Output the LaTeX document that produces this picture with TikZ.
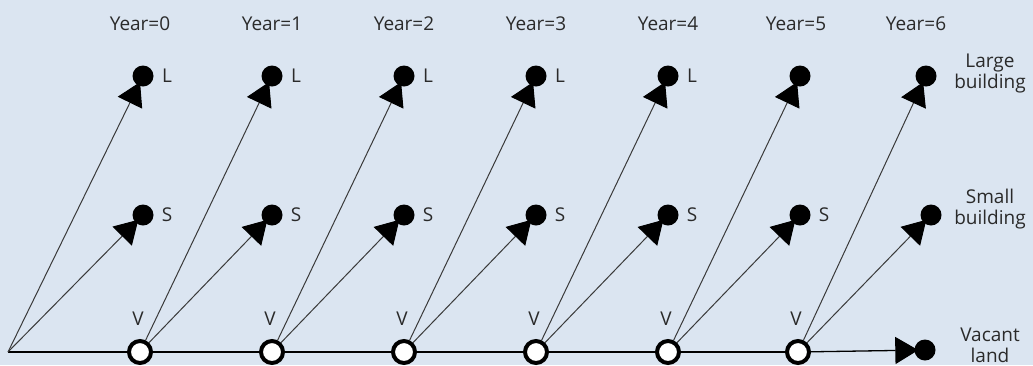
\documentclass[tikz,border=0pt]{standalone}
\usepackage{fontspec}
\setmainfont{Open Sans}
\usetikzlibrary{arrows.meta}
\definecolor{bg}{HTML}{DBE5F1}
\definecolor{ln}{HTML}{3A3A3A}
\definecolor{tx}{HTML}{2A2A2A}
\begin{document}
\begin{tikzpicture}[x=1pt,y=-1pt,
  dot/.style={circle,fill=black,inner sep=0pt,minimum size=21pt},
  vnode/.style={circle,draw=black,line width=4pt,fill=white,inner sep=0pt,minimum size=22pt},
  endtip/.style={-{Triangle[length=23pt,width=27pt,color=black]},shorten >=-4pt},
  branch/.style={draw=ln,line width=1pt,endtip},
  hline/.style={draw=black,line width=1.3pt},
  lbl/.style={font=\fontsize{19}{21}\selectfont,text=tx,inner sep=0pt,align=center},
]
\fill[bg] (0,0) rectangle (1033,365);
\useasboundingbox (0,0) rectangle (1033,365);
% year labels
\foreach \i/\x in {0/140,1/272,2/404,3/536,4/668,5/796,6/916}
  \node[lbl] (Y\i) at (\x,24) {Year=\i};
% dots
\foreach \i/\x/\s in {0/143/143,1/272/272,2/404/404,3/536/536,4/668/668,5/800/800,6/926/931} {
  \node[dot] (L\i) at (\x,76) {};
  \node[dot] (S\i) at (\s,215) {};
}
\foreach \i/\x in {0/143,1/272,2/404,3/536,4/668}
  \node[lbl] (LL\i) at (\x+24,76) {L};
\foreach \i/\x in {0/143,1/272,2/404,3/536,4/668,5/800}
  \node[lbl] (SL\i) at (\x+24,215) {S};
% vacant nodes
\coordinate (O) at (8,352);
\foreach \i/\x in {0/140,1/272,2/404,3/536,4/668,5/798} {
  \node[vnode] (V\i) at (\x,352) {};
  \node[lbl] (VL\i) at (\x-2,319) {V};
}
\node[dot] (F) at (925,350) {};
% right labels
\node[lbl] (RL) at (990,73) {Large\\building};
\node[lbl] (RS) at (990,209) {Small\\building};
\node[lbl] (RV) at (990,345) {Vacant\\land};
% connectors
\draw[hline] (O) -- (V0);
\foreach \a/\b in {0/1,1/2,2/3,3/4,4/5}
  \draw[hline] (V\a) -- (V\b);
\draw[hline,endtip] (V5) -- (F);
\draw[branch] (O) -- (L0);
\draw[branch] (O) -- (S0);
\foreach \a/\b in {0/1,1/2,2/3,3/4,4/5,5/6} {
  \draw[branch] (V\a) -- (L\b);
  \draw[branch] (V\a) -- (S\b);
}
\end{tikzpicture}
\end{document}
